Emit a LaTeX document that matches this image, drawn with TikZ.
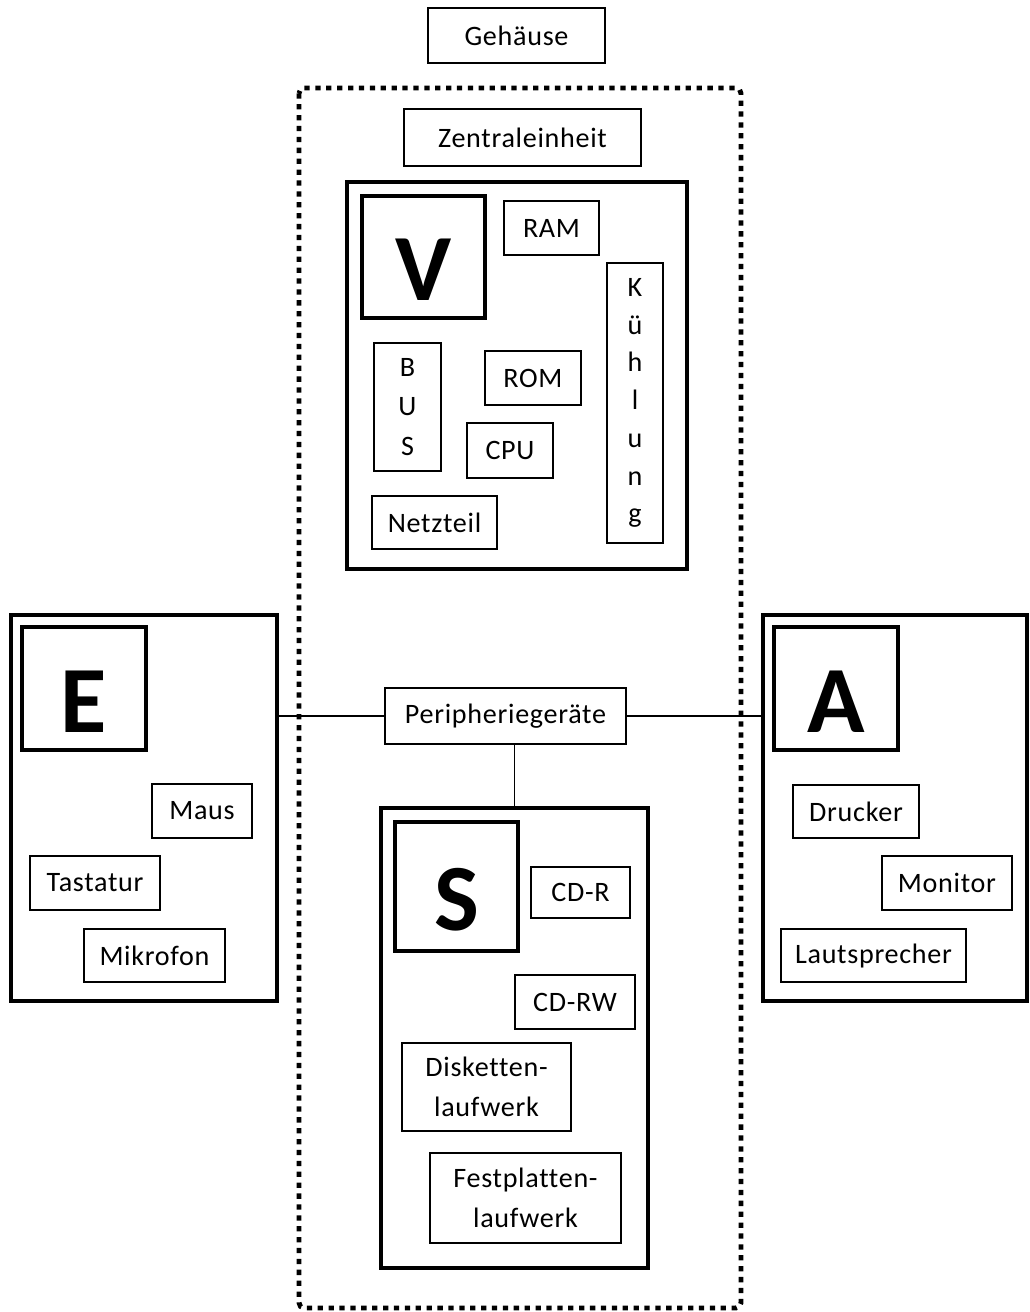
\documentclass[tikz,border=0pt]{standalone}
\usepackage{fontspec}
\setmainfont{Carlito}[LetterSpace=2.5,Ligatures=NoCommon]
\usepackage{tikz}

\begin{document}
\begin{tikzpicture}[x=0.02cm,y=-0.02cm,
    box/.style={draw,line width=0.8pt,inner sep=0pt,font=\fontsize{16}{18}\selectfont,align=center},
    group/.style={draw,line width=2.6pt,inner sep=0pt},
    letter/.style={draw,line width=2.8pt,inner sep=0pt,text height=1.75cm,text depth=0pt,font=\fontsize{54}{60}\selectfont\bfseries}]
    \useasboundingbox (0,0) rectangle (1029,1312);
    \draw[line width=2.8pt,dash pattern=on 3pt off 3.2pt,rounded corners=3pt] (299,88) rectangle (741,1308);
    \node[box,minimum width=3.54cm,minimum height=1.1cm](geh) at (516.5,35.5) {Gehäuse};
    \node[box,minimum width=4.74cm,minimum height=1.14cm](zen) at (522.5,137.5) {Zentraleinheit};
    % Verarbeitung
    \node[group,minimum width=6.8cm,minimum height=7.74cm](vo) at (517,375.5) {};
    \node[letter,minimum width=2.46cm,minimum height=2.44cm](v) at (423.5,257) {V};
    \node[box,minimum width=1.9cm,minimum height=1.08cm](ram) at (551.5,228) {RAM};
    \node[box,minimum width=1.12cm,minimum height=5.6cm,font=\fontsize{16}{21.5}\selectfont](kue) at (635,403) {K\\ü\\h\\l\\u\\n\\g};
    \node[box,minimum width=1.34cm,minimum height=2.56cm,font=\fontsize{16}{22.5}\selectfont](bus) at (407.5,407) {B\\U\\S};
    \node[box,minimum width=1.92cm,minimum height=1.08cm](rom) at (533,378) {ROM};
    \node[box,minimum width=1.72cm,minimum height=1.1cm](cpu) at (510,450.5) {CPU};
    \node[box,minimum width=2.5cm,minimum height=1.06cm](net) at (434.5,522.5) {Netzteil};
    % Eingabe
    \node[group,minimum width=5.32cm,minimum height=7.72cm](eo) at (144,808) {};
    \node[letter,minimum width=2.48cm,minimum height=2.46cm](e) at (84,688.5) {E};
    \node[box,minimum width=2cm,minimum height=1.08cm](maus) at (202,811) {Maus};
    \node[box,minimum width=2.6cm,minimum height=1.08cm](tast) at (95,883) {Tastatur};
    \node[box,minimum width=2.82cm,minimum height=1.06cm](mik) at (154.5,955.5) {Mikrofon};
    % Ausgabe
    \node[group,minimum width=5.28cm,minimum height=7.72cm](ao) at (895,808) {};
    \node[letter,minimum width=2.48cm,minimum height=2.46cm](a) at (836,688.5) {A};
    \node[box,minimum width=2.52cm,minimum height=1.06cm](dru) at (856,811.5) {Drucker};
    \node[box,minimum width=2.6cm,minimum height=1.08cm](mon) at (947,883) {Monitor};
    \node[box,minimum width=3.7cm,minimum height=1.06cm](laut) at (873.5,955.5) {Lautsprecher};
    % Speicher
    \node[box,minimum width=4.82cm,minimum height=1.12cm](peri) at (505.5,716) {Peripheriegeräte};
    \node[group,minimum width=5.34cm,minimum height=9.2cm](so) at (514.5,1038) {};
    \node[letter,minimum width=2.46cm,minimum height=2.58cm](s) at (456.5,886.5) {S};
    \node[box,minimum width=1.98cm,minimum height=1.02cm](cdr) at (580.5,892.5) {CD-R};
    \node[box,minimum width=2.4cm,minimum height=1.08cm](cdrw) at (575,1002) {CD-RW};
    \node[box,minimum width=3.38cm,minimum height=1.76cm,font=\fontsize{16}{23}\selectfont](disk) at (486.5,1087) {Disketten-\\laufwerk};
    \node[box,minimum width=3.82cm,minimum height=1.8cm,font=\fontsize{16}{23}\selectfont](fest) at (525.5,1198) {Festplatten-\\laufwerk};
    \draw[line width=0.8pt] (peri.west) -- (peri.west -| eo.east);
    \draw[line width=0.8pt] (peri.east) -- (peri.east -| ao.west);
    \draw[line width=0.8pt] (so.north) -- (so.north |- peri.south);
\end{tikzpicture}
\end{document}
